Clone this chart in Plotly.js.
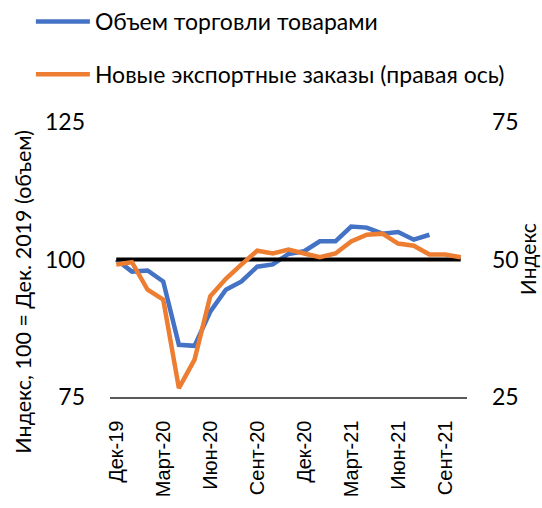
<!DOCTYPE html>
<html>
<head>
<meta charset="utf-8">
<script src="https://cdn.plot.ly/plotly-3.0.1.min.js"></script>
<style>html,body{margin:0;padding:0;background:#fff;}#chart{width:542px;height:508px;}</style>
</head>
<body>
<div id="chart"></div>
<script>
const months = ["Дек-19","Янв-20","Фев-20","Март-20","Апр-20","Май-20","Июн-20","Июл-20","Авг-20","Сент-20","Окт-20","Нояб-20","Дек-20","Янв-21","Фев-21","Март-21","Апр-21","Май-21","Июн-21","Июл-21","Авг-21","Сент-21","Окт-21"];
const tradeVolume = [100,97.8,98.0,96.0,84.5,84.3,90.5,94.5,96.0,98.7,99.1,101.0,101.5,103.3,103.3,106.0,105.8,104.7,105.0,103.6,104.5];
const exportOrders = [49.1,49.5,44.5,42.7,26.6,31.8,43.3,46.5,49.1,51.6,51.1,51.8,51.1,50.4,51.1,53.3,54.5,54.7,52.9,52.5,50.9,50.9,50.4];
const tickLabels = ["Дек-19","Март-20","Июн-20","Сент-20","Дек-20","Март-21","Июн-21","Сент-21"];
const baseline = 100;

const calib = "Lato, 'Open Sans', sans-serif";
const arial = "'Liberation Sans', Arial, sans-serif";

const traces = [
  {x: months.slice(0, tradeVolume.length), y: tradeVolume, type: 'scatter', mode: 'lines',
   name: 'Объем торговли товарами', line: {color: '#4472C4', width: 4.5}, yaxis: 'y', legendgroup: 'a'},
  {x: months, y: exportOrders, type: 'scatter', mode: 'lines',
   name: 'Новые экспортные заказы (правая ось)', line: {color: '#ED7D31', width: 4.5}, yaxis: 'y2', legendgroup: 'b'},
  {x: [months[0], months[months.length-1]], y: [baseline, baseline], type: 'scatter', mode: 'lines',
   line: {color: '#000000', width: 4}, showlegend: false, yaxis: 'y', hoverinfo: 'skip'}
];

const layout = {
  width: 542, height: 508,
  margin: {l: 110, r: 75, t: 122, b: 111, autoexpand: false},
  paper_bgcolor: '#fff', plot_bgcolor: '#fff',
  showlegend: true,
  legend: {x: 0.057, y: 1, xanchor: 'left', yanchor: 'top', xref: 'container', yref: 'container',
           font: {family: calib, size: 23, color: '#000'}, tracegroupgap: 20, itemwidth: 54,
           bgcolor: 'rgba(0,0,0,0)'},
  xaxis: {type: 'category', range: [-0.4, 22.4], tickmode: 'array', tickvals: tickLabels, ticktext: tickLabels,
          tickangle: -90, tickfont: {family: arial, size: 20, color: '#000'}, showgrid: false, zeroline: false,
          showline: true, linecolor: '#595959', linewidth: 1.5, ticks: '', ticklabelstandoff: 14, automargin: false},
  yaxis: {range: [75, 125], tickvals: [75, 100, 125], showgrid: false, zeroline: false, showline: false,
          tickfont: {family: calib, size: 23, color: '#000'}, ticks: '', ticklabelstandoff: 24, automargin: false},
  yaxis2: {range: [25, 75], tickvals: [25, 50, 75], overlaying: 'y', side: 'right', showgrid: false, zeroline: false,
           showline: false, tickfont: {family: calib, size: 23, color: '#000'}, ticks: '', ticklabelstandoff: 24, automargin: false},
  annotations: [
    {text: 'Индекс, 100 = Дек. 2019 (объем)', xref: 'paper', yref: 'paper', x: -0.25, y: 0.382, textangle: -90,
     xanchor: 'center', yanchor: 'middle', showarrow: false, font: {family: calib, size: 21.5, color: '#000'}, xshift: 2},
    {text: 'Индекс', xref: 'paper', yref: 'paper', x: 1.17, y: 0.5, textangle: -90,
     xanchor: 'center', yanchor: 'middle', showarrow: false, font: {family: calib, size: 21, color: '#000'}}
  ]
};

Plotly.newPlot('chart', traces, layout, {displayModeBar: false, staticPlot: true});
</script>
</body>
</html>
